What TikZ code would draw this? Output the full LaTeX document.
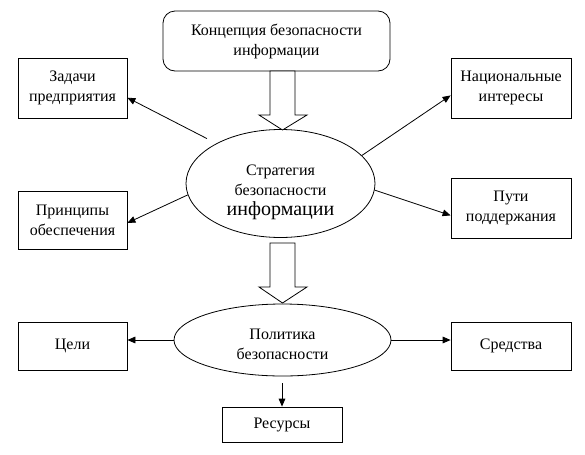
\documentclass[tikz,border=0pt]{standalone}
\usepackage{fontspec}
\setmainfont{Liberation Serif}
\usetikzlibrary{arrows.meta,shapes.geometric}

\tikzstyle{box} = [rectangle, draw, inner sep=0pt, align=center, font=\fontsize{12}{15}\selectfont]
\tikzstyle{oval} = [ellipse, draw, inner sep=0pt, align=center, font=\fontsize{12}{15}\selectfont]
\tikzstyle{arr} = [-{Triangle[length=6pt,width=5pt]}, semithick]
\tikzstyle{hollow} = [draw, fill=white, semithick]

\begin{document}
\begin{tikzpicture}[x=0.75pt, y=-0.75pt, line width=0.6pt]
\useasboundingbox (0,0) rectangle (585,454);

% upper part
\node[box, rounded corners=9pt, minimum width=170.25pt, minimum height=45pt] (concept) at (276.5,41)
    {Концепция безопасности\\информации};
\node[oval, minimum width=141.75pt, minimum height=81pt] (strat) at (280.5,183.5)
    {\rule{0pt}{21pt}Стратегия\\безопасности\\{\fontsize{15}{16}\selectfont информации}};

\node[box, minimum width=81.75pt, minimum height=45pt] (zad) at (72.5,88) {Задачи\\предприятия};
\node[box, minimum width=81.75pt, minimum height=43.5pt] (prin) at (72.5,220) {Принципы\\обеспечения};
\node[box, minimum width=90pt, minimum height=45pt] (nat) at (511,88) {Национальные\\интересы};
\node[box, minimum width=90pt, minimum height=45pt] (puti) at (511,208) {Пути\\поддержания};

% lower part
\node[oval, minimum width=162.75pt, minimum height=54pt] (pol) at (282.5,340)
    {\rule{0pt}{14pt}Политика\\безопасности};
\node[box, minimum width=81.75pt, minimum height=36pt] (celi) at (72.5,346) {Цели};
\node[box, minimum width=90pt, minimum height=36pt] (sred) at (511,346) {Средства};
\node[box, minimum width=90pt, minimum height=26.25pt] (res) at (282,424.5) {Ресурсы};

% hollow arrows
\draw[hollow] (270,71) -- (270,115) -- (259,115) -- (282.5,130) -- (307,115) -- (295,115) -- (295,71) -- cycle;
\draw[hollow] (270,243) -- (270,287) -- (259,287) -- (282.5,303) -- (307,287) -- (295,287) -- (295,243) -- cycle;

% connectors
\draw[arr, shorten <=8pt] (strat.148) -- (zad.-10);
\draw[arr] (strat.187) -- (prin.-3);
\draw[arr] (strat.19) -- (nat.187);
\draw[arr] (strat.-4) -- (puti.187);

\draw[arr] (pol.west) -- (pol.west -| celi.east);
\draw[arr] (pol.east) -- (pol.east -| sred.west);
\draw[arr, shorten <=5pt] (pol.south -| res.north) -- (res.north);
\end{tikzpicture}
\end{document}
